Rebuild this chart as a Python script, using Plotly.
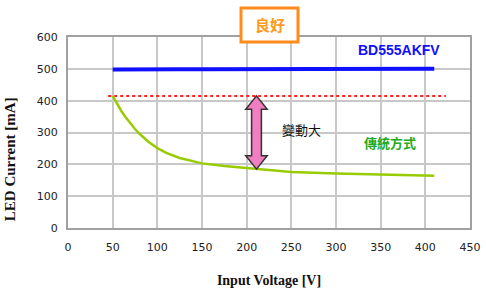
import plotly.graph_objects as go

# Data
volt_blue = [50, 75, 100, 125, 150, 175, 200, 225, 250, 275, 300, 325, 350, 375, 400, 410]
curr_blue = [498, 499, 501, 499, 499, 499, 500, 499, 500, 498, 500, 499, 500, 499, 500, 500]

volt_green = [50, 55, 60, 65, 70, 75, 80, 90, 100, 110, 125, 150, 175, 200, 210, 250, 300, 350, 400, 410]
curr_green = [415, 390, 366, 346, 328, 311, 296, 271, 251, 236, 220, 203, 195, 189, 185, 176, 171, 168, 164, 164]

ref_x = [45, 423]
ref_y = [415, 415]

arrow_x = 211
arrow_top = 415
arrow_bottom = 185

x_ticks = [0, 50, 100, 150, 200, 250, 300, 350, 400, 450]
y_ticks = [0, 100, 200, 300, 400, 500, 600]

L, R, T, B = 68, 470, 37, 227.7  # plot area in pixels

fig = go.Figure()
fig.add_trace(go.Scatter(x=ref_x, y=ref_y, mode="lines",
                         line=dict(color="#ff2020", width=2, dash="dot"), hoverinfo="skip"))
fig.add_trace(go.Scatter(x=volt_green, y=curr_green, mode="lines",
                         line=dict(color="#99cc00", width=2.5)))
fig.add_trace(go.Scatter(x=volt_blue, y=curr_blue, mode="lines",
                         line=dict(color="#1010ff", width=4)))

# Double arrow (pink)
sw = 5.5   # half shaft width (x units)
hw = 12    # half head width
hh = 42    # head height (y units)
ax = arrow_x
pts = [
    (ax, arrow_top), (ax + hw, arrow_top - hh), (ax + sw, arrow_top - hh),
    (ax + sw, arrow_bottom + hh), (ax + hw, arrow_bottom + hh), (ax, arrow_bottom),
    (ax - hw, arrow_bottom + hh), (ax - sw, arrow_bottom + hh), (ax - sw, arrow_top - hh),
    (ax - hw, arrow_top - hh),
]
path = "M " + " L ".join(f"{px},{py}" for px, py in pts) + " Z"
fig.add_shape(type="path", path=path, xref="x", yref="y",
              fillcolor="#f07ec0", line=dict(color="#333333", width=1.5))

# 良好 box
fig.add_shape(type="rect", xref="paper", yref="paper",
              x0=(241 - L) / (R - L), x1=(298 - L) / (R - L),
              y0=(B - 42) / (B - T), y1=(B - 8) / (B - T),
              line=dict(color="#ff8c1a", width=3), fillcolor="white", layer="above")

cjk = "Noto Sans CJK TC"
fig.add_annotation(x=ax + 26, y=308, xref="x", yref="y", text="變動大", showarrow=False,
                   xanchor="left", font=dict(family=cjk, size=13, color="#111111"))
fig.add_annotation(x=360, y=270, xref="x", yref="y", text="<b>傳統方式</b>", showarrow=False,
                   xanchor="center", font=dict(family=cjk, size=13, color="#22aa22"))
fig.add_annotation(x=371, y=560, xref="x", yref="y", text="<b>BD555AKFV</b>", showarrow=False,
                   xanchor="center", font=dict(family="Liberation Sans", size=14, color="#1010ff"))
fig.add_annotation(x=(270 - L) / (R - L), y=(B - 25) / (B - T), xref="paper", yref="paper",
                   xanchor="center", yanchor="middle", text="<b>良好</b>", showarrow=False,
                   font=dict(family=cjk, size=15, color="#ff9a20"))
# y-axis title (positioned like the original, below plot centre)
fig.add_annotation(x=(10 - L) / (R - L), y=(B - 159) / (B - T), xref="paper", yref="paper",
                   xanchor="center", yanchor="middle", textangle=-90, showarrow=False,
                   text="<b>LED Current [mA]</b>",
                   font=dict(family="Liberation Serif", size=15, color="#111111"))

fig.update_layout(
    width=486, height=300,
    margin=dict(l=L, r=486 - R, t=T, b=300 - B),
    paper_bgcolor="white", plot_bgcolor="white",
    showlegend=False,
    font=dict(family="DejaVu Sans", size=11, color="#222222"),
)
fig.update_xaxes(range=[0, 450], tickvals=x_ticks, showgrid=True, gridcolor="#c8c8c8",
                 gridwidth=1.5, showline=True, linecolor="#a0a0a0", linewidth=2, mirror=True,
                 zeroline=False, ticks="", ticklen=0, ticklabelstandoff=8, automargin=False,
                 title=dict(text="<b>Input Voltage [V]</b>", standoff=22,
                            font=dict(family="Liberation Serif", size=14, color="#111111")))
fig.update_yaxes(range=[0, 600], tickvals=y_ticks, showgrid=True, gridcolor="#c8c8c8",
                 gridwidth=1.5, showline=True, linecolor="#a0a0a0", linewidth=2, mirror=True,
                 zeroline=False, ticks="", ticklen=0, ticklabelstandoff=6, automargin=False)

fig.write_html("out.html")
